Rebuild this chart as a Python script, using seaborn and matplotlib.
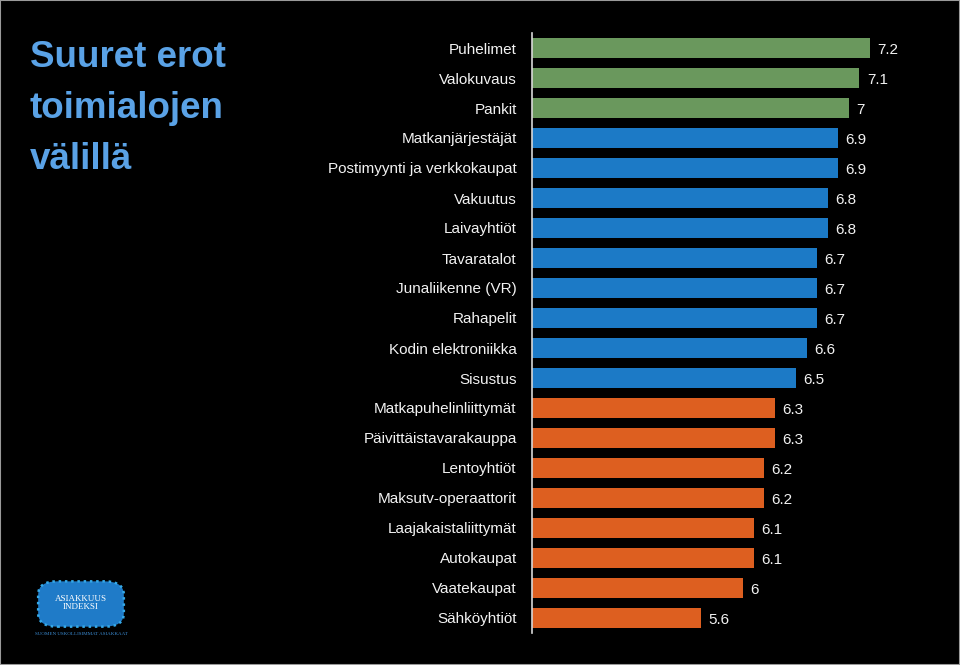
#!/usr/bin/env python3
"""Horizontal bar chart: customer loyalty index by industry (black slide style)."""

import matplotlib
matplotlib.use("Agg")
import matplotlib.pyplot as plt
import seaborn as sns
import pandas as pd
from matplotlib.patches import FancyBboxPatch, Rectangle

# --- Data ---
categories = [
    "Puhelimet", "Valokuvaus", "Pankit", "Matkanjärjestäjät",
    "Postimyynti ja verkkokaupat", "Vakuutus", "Laivayhtiöt", "Tavaratalot",
    "Junaliikenne (VR)", "Rahapelit", "Kodin elektroniikka", "Sisustus",
    "Matkapuhelinliittymät", "Päivittäistavarakauppa", "Lentoyhtiöt",
    "Maksutv-operaattorit", "Laajakaistaliittymät", "Autokaupat",
    "Vaatekaupat", "Sähköyhtiöt",
]
values = [7.2, 7.1, 7.0, 6.9, 6.9, 6.8, 6.8, 6.7, 6.7, 6.7,
          6.6, 6.5, 6.3, 6.3, 6.2, 6.2, 6.1, 6.1, 6.0, 5.6]
value_labels = ["7.2", "7.1", "7", "6.9", "6.9", "6.8", "6.8", "6.7", "6.7", "6.7",
                "6.6", "6.5", "6.3", "6.3", "6.2", "6.2", "6.1", "6.1", "6", "5.6"]
groups = ["high"] * 3 + ["mid"] * 9 + ["low"] * 8

GROUP_COLORS = {"high": "#6a985d", "mid": "#1c7ac6", "low": "#dd5f20"}
TITLE_COLOR = "#5aa2e6"
TEXT_COLOR = "#f2f2f2"
LABEL_FONT = ["Liberation Sans Narrow", "Liberation Sans", "DejaVu Sans"]

df = pd.DataFrame({"category": categories, "value": values})
palette = {c: GROUP_COLORS[g] for c, g in zip(categories, groups)}

fig = plt.figure(figsize=(9.6, 6.65), dpi=100, facecolor="black")
W, H = 960, 665
# axes spans x 532..940 px, y 33..633 px
ax = fig.add_axes([532 / W, 1 - 633 / H, (940 - 532) / W, 600 / H])
ax.set_facecolor("black")

sns.barplot(data=df, x="value", y="category", hue="category", palette=palette,
            legend=False, orient="h", width=0.67, saturation=1, ax=ax)

ax.set_xlim(4, 4 + 408 / 105.6)
ax.set_ylim(19.5, -0.5)
ax.set_xlabel("")
ax.set_ylabel("")
ax.set_xticks([])
for side in ["top", "right", "bottom"]:
    ax.spines[side].set_visible(False)
ax.spines["left"].set_color("#d8d8d8")
ax.spines["left"].set_linewidth(1.2)
ax.tick_params(axis="y", length=0, pad=11, colors=TEXT_COLOR)
for lbl in ax.get_yticklabels():
    lbl.set_fontfamily(LABEL_FONT)
    lbl.set_fontsize(11)
    lbl.set_color(TEXT_COLOR)

for i, (v, txt) in enumerate(zip(values, value_labels)):
    ax.text(v + 0.07, i + 0.05, txt, va="center", ha="left", color=TEXT_COLOR,
            fontsize=11, family=LABEL_FONT)

# Title
fig.text(30 / W, 1 - 40 / H, "Suuret erot\ntoimialojen\nvälillä", ha="left", va="top",
         color=TITLE_COLOR, fontsize=26.5, fontweight="bold",
         family=["Liberation Sans", "DejaVu Sans"], linespacing=1.6)

# Logo (approximation)
logo = FancyBboxPatch((42 / W, 1 - 624 / H), 78 / W, 40 / H,
                      boxstyle="round,pad=0.004,rounding_size=0.02",
                      transform=fig.transFigure, facecolor="#1f7bc8",
                      edgecolor="#35a9e8", linewidth=1.8, linestyle=(0, (1, 1.5)))
fig.patches.append(logo)
fig.text(81 / W, 1 - 603 / H, "ASIAKKUUS\nINDEKSI", ha="center", va="center",
         color="white", fontsize=6.5, family="Liberation Serif", linespacing=1.0)
fig.text(81 / W, 1 - 634 / H, "SUOMEN USKOLLISIMMAT ASIAKKAAT", ha="center",
         va="center", color="#3c8fd8", fontsize=3.6, family="Liberation Serif")

# thin frame
fig.patches.append(Rectangle((0, 0), 1, 1, transform=fig.transFigure, fill=False,
                             edgecolor="#9a9a9a", linewidth=1.5))

fig.savefig("out.png", dpi=100, facecolor="black")
plt.close(fig)
